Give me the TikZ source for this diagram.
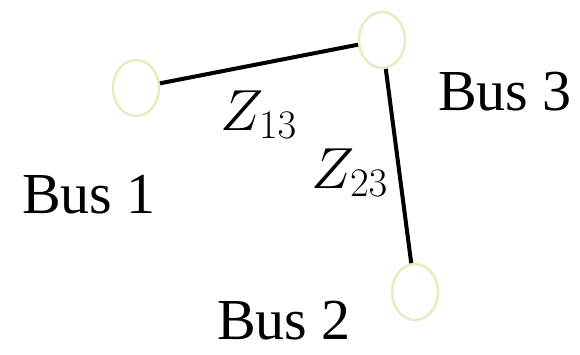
\documentclass[tikz,border=0pt]{standalone}
\usepackage{fix-cm}
\usepackage{fontspec}
\setmainfont{Liberation Serif}
\usetikzlibrary{shapes.geometric}
\definecolor{busring}{RGB}{236,234,192}

\begin{document}
\begin{tikzpicture}[x=1pt,y=-1pt,
	bus/.style={ellipse, draw=busring, line width=2.5pt, minimum width=46pt, minimum height=56pt, inner sep=0pt},
	line/.style={line width=4pt, black},
	lbl/.style={anchor=base west, inner sep=0pt, font=\fontsize{58}{60}\selectfont}]
	\useasboundingbox (0,0) rectangle (580,354);
	% buses
	\node [bus] (bus1) at (136,88) {};
	\node [bus] (bus3) at (382,40) {};
	\node [bus] (bus2) at (415,292) {};
	% lines
	\draw [line] (bus1) -- (bus3);
	\draw [line] (bus3) -- (bus2);
	% labels
	\node [lbl] (name1) at (22,213) {Bus 1};
	\node [lbl] (name3) at (438,110) {Bus 3};
	\node [lbl] (name2) at (217,339) {Bus 2};
	\node [lbl] (z13) at (220,130) {$Z_{13}$};
	\node [lbl] (z23) at (311,188) {$Z_{23}$};
\end{tikzpicture}
\end{document}
